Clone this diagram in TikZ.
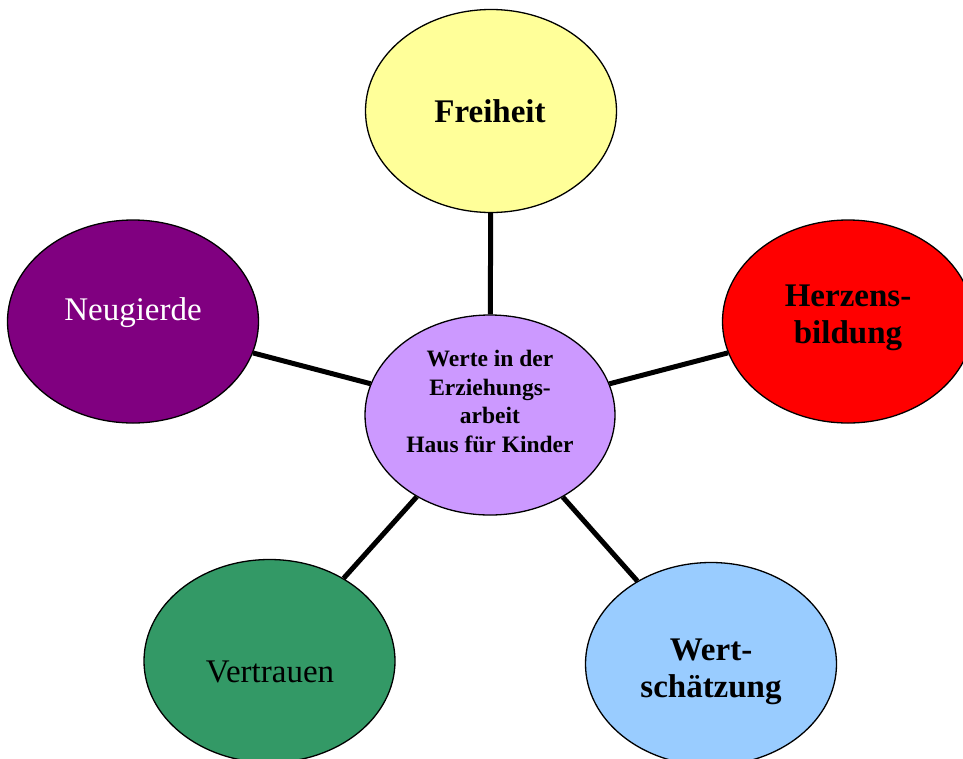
\documentclass[tikz,border=0pt]{standalone}
\usepackage{fontspec}
\setmainfont{Liberation Serif}
\usetikzlibrary{shapes.geometric}
\definecolor{frei}{HTML}{FFFF99}
\definecolor{herz}{HTML}{FF0000}
\definecolor{neug}{HTML}{800080}
\definecolor{mitte}{HTML}{CC99FF}
\definecolor{vert}{HTML}{339966}
\definecolor{wert}{HTML}{99CCFF}
\tikzset{
  val/.style={draw=black,line width=1.3pt,ellipse,minimum width=251pt,minimum height=203pt,inner sep=0pt},
  big/.style={anchor=base,align=center,font=\fontsize{33}{36.5}\selectfont},
  bbig/.style={big,font=\fontsize{33}{36.5}\selectfont\bfseries},
  con/.style={line width=5pt,draw=black},
}
\begin{document}
\begin{tikzpicture}[x=1pt,y=-1pt]
\clip (0,0) rectangle (963,758);
\fill[white] (0,0) rectangle (963,758);
% ellipses
\node[val,fill=mitte,minimum width=250pt,minimum height=200pt] (mid) at (490,415) {};
\node[val,fill=frei] (fre) at (491,111) {};
\node[val,fill=herz] (her) at (848,321.5) {};
\node[val,fill=neug] (neu) at (133,321.5) {};
\node[val,fill=vert] (ver) at (269.5,661) {};
\node[val,fill=wert] (wer) at (711,664) {};
% connectors
\draw[con] (mid) -- (fre);
\draw[con] (mid) -- (her);
\draw[con] (mid) -- (neu);
\draw[con] (mid) -- (ver);
\draw[con] (mid) -- (wer);
% texts (base = last line)
\node[big,font=\fontsize{23.5}{28.5}\selectfont\bfseries] (midT) at (490,452) {Werte in der\\Erziehungs-\\arbeit\\Haus für Kinder};
\node[bbig] (freT) at (490,122) {Freiheit};
\node[bbig] (herT) at (848,343) {Herzens-\\bildung};
\node[big,text=white] (neuT) at (133,320) {Neugierde};
\node[big] (verT) at (270,682) {Vertrauen};
\node[bbig] (werT) at (711,697) {Wert-\\schätzung};
\end{tikzpicture}
\end{document}
